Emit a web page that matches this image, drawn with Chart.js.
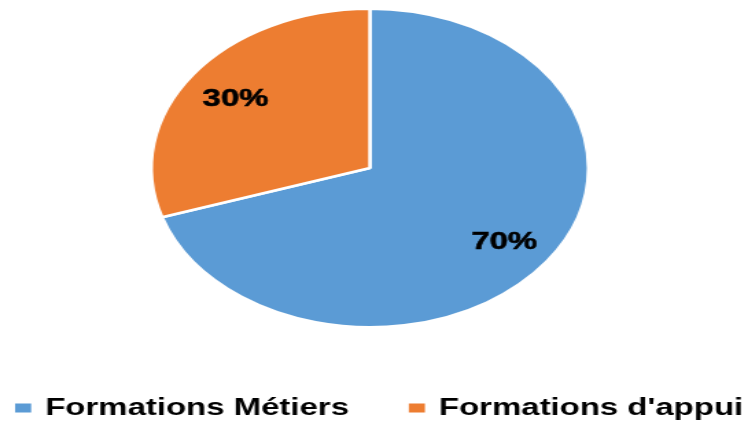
<!DOCTYPE html>
<html>
<head>
<meta charset="utf-8">
<script src="https://cdn.jsdelivr.net/npm/chart.js@4.4.1/dist/chart.umd.min.js"></script>
<style>
  html, body { margin: 0; padding: 0; background: #fff; overflow: hidden; }
  /* the original picture is stretched sideways: draw narrow, then widen */
  #wrap { width: 545px; height: 423px; transform: scaleX(1.3725); transform-origin: 0 0; }
</style>
</head>
<body>
<div id="wrap"><canvas id="c" width="545" height="423"></canvas></div>
<script>
/* ── Données ─────────────────────────────────────────────── */
const CATEGORIES = ['Formations Métiers', "Formations d'appui"];
const VALEURS    = [70, 30];
const COULEURS   = ['#5B9BD5', '#ED7D31'];

const FONT = "'Liberation Sans', Arial, sans-serif";

// ── Étiquettes % sur les parts ──────────────────────────────
const pctLabels = {
  id: 'pctLabels',
  afterDatasetsDraw(chart) {
    const { ctx } = chart;
    const meta = chart.getDatasetMeta(0);
    const total = VALEURS.reduce((a, b) => a + b, 0);
    ctx.save();
    ctx.font = `bold 24px ${FONT}`;
    ctx.fillStyle = '#000';
    ctx.strokeStyle = '#000';
    ctx.lineWidth = 0.6;
    ctx.textAlign = 'center';
    ctx.textBaseline = 'middle';
    meta.data.forEach((arc, i) => {
      const { x, y, startAngle, endAngle, outerRadius } = arc.getProps(['x','y','startAngle','endAngle','outerRadius'], true);
      const mid = (startAngle + endAngle) / 2;
      const r = outerRadius * 0.76;
      const txt = Math.round(VALEURS[i] / total * 100) + '%';
      const tx = x + Math.cos(mid) * r, ty = y + Math.sin(mid) * r + 3;
      ctx.fillText(txt, tx, ty);
      ctx.strokeText(txt, tx, ty);
    });
    ctx.restore();
  }
};

// ── Légende sur une ligne (comme l'original) ────────────────
const legendeLigne = {
  id: 'legendeLigne',
  afterDraw(chart) {
    const { ctx } = chart;
    const yMid = 408;
    let x = 11;
    ctx.save();
    ctx.font = `bold 24px ${FONT}`;
    ctx.textBaseline = 'middle';
    ctx.textAlign = 'left';
    chart.data.labels.forEach((lbl, i) => {
      ctx.fillStyle = chart.data.datasets[0].backgroundColor[i];
      ctx.fillRect(x, yMid - 4.5, 11.7, 9);
      x += 11.7 + 10.2;
      ctx.fillStyle = '#000';
      ctx.fillText(lbl, x, yMid);
      x += ctx.measureText(lbl).width + 43.6;
    });
    ctx.restore();
  }
};

new Chart(document.getElementById('c'), {
  type: 'pie',
  data: {
    labels: CATEGORIES,
    datasets: [{ data: VALEURS, backgroundColor: COULEURS, borderColor: '#fff', borderWidth: 2.5 }]
  },
  options: {
    responsive: false,
    animation: false,
    layout: { padding: { top: 7.5, bottom: 94.5, left: 109, right: 115 } },
    plugins: { legend: { display: false }, tooltip: { enabled: false } }
  },
  plugins: [pctLabels, legendeLigne]
});
</script>
</body>
</html>
